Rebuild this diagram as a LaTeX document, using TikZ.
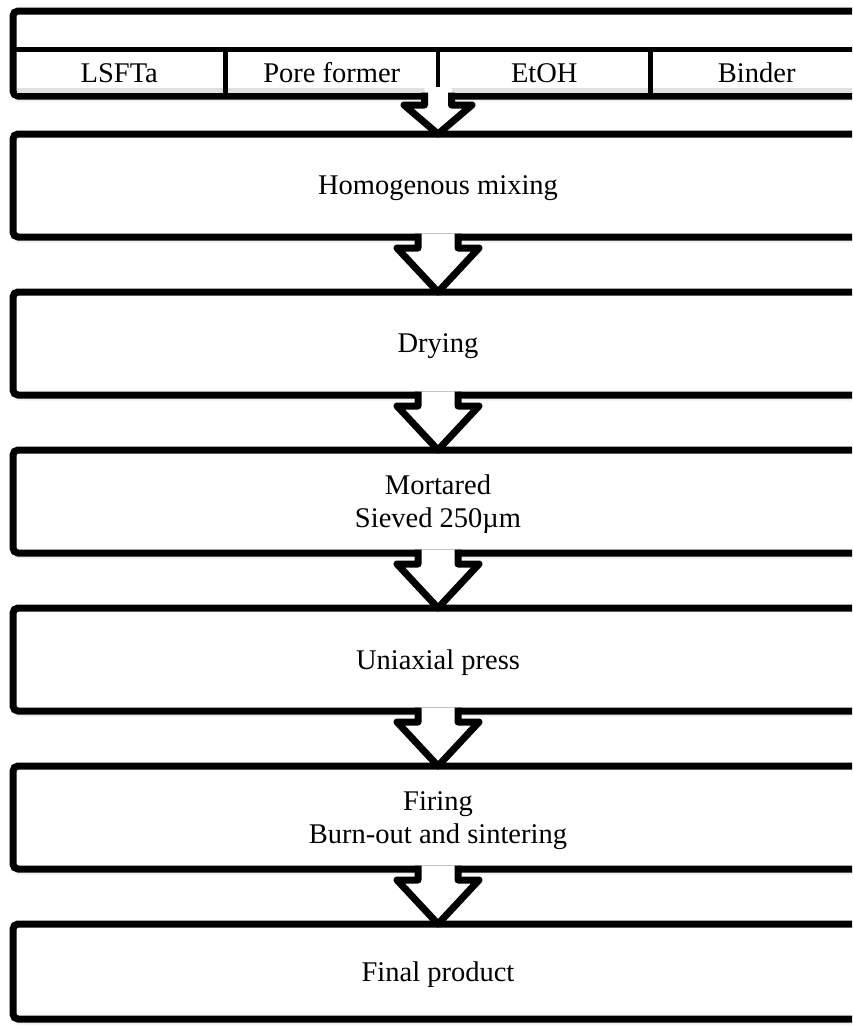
\documentclass[tikz,border=0pt]{standalone}
\usepackage{fontspec}
\setmainfont{Liberation Serif}
\usetikzlibrary{calc,shadows}

\begin{document}
\begin{tikzpicture}[x=1pt, y=-1pt, font=\fontsize{28.5}{33}\selectfont]
  \useasboundingbox (0,0) rectangle (852,1026);
  \clip (0,0) rectangle (852,1026);

  % ingredients
  \node [rectangle, rounded corners=5pt, draw, fill=white, line width=7pt, inner sep=0pt, outer sep=0pt,
         minimum width=850pt, minimum height=85pt,
         drop shadow={shadow xshift=0pt, shadow yshift=-5.5pt, opacity=0.12}] (feed) at (438,53.5) {};
  \fill [black!12] ($(feed.south west)+(3.5,-8.5)$) rectangle ($(feed.south east)+(-3.5,-3.5)$);
  \begin{scope}[every node/.style={rectangle, inner sep=0pt, outer sep=0pt, minimum width=212.5pt,
                                   minimum height=46.5pt, text height=20pt, text depth=1.5pt}]
    \node (lsfta) at (119.25,72.75) {LSFTa};
    \node (pore) at (331.75,72.75) {Pore former};
    \node (etoh) at (544.25,72.75) {EtOH};
    \node (binder) at (756.75,72.75) {Binder};
  \end{scope}
  \draw [line width=5pt] (lsfta.north west) -- (binder.north east);
  \foreach \c in {lsfta,pore,etoh}
    \draw [line width=4.5pt] (\c.north east) -- (\c.south east);

  % process steps
  \begin{scope}[every node/.style={rectangle, rounded corners=5pt, draw, fill=white, line width=7pt,
                                   inner sep=0pt, outer sep=0pt, minimum width=850pt, minimum height=103pt,
                                   align=center, text depth=0pt,
                                   drop shadow={shadow xshift=0pt, shadow yshift=-5.5pt, opacity=0.12}}]
    \node (mix) at (438,185.5) {Homogenous mixing};
    \node (dry) at (438,343.5) {Drying};
    \node (mort) at (438,501.5) {Mortared\\Sieved 250µm};
    \node (press) at (438,659.5) {Uniaxial press};
    \node (fire) at (438,817.5) {Firing\\Burn-out and sintering};
    \node [minimum height=95pt] (final) at (438,971.5) {Final product};
  \end{scope}

  % block arrows
  \begin{scope}[line width=7pt, line join=round]
    \fill [white] ($(feed.south)+(-13.5,-9)$) -- ($(feed.south)+(-13.5,9)$) -- ($(feed.south)+(-34,9)$)
      -- (mix.north) -- ($(feed.south)+(34,9)$) -- ($(feed.south)+(13.5,9)$) -- ($(feed.south)+(13.5,-9)$) -- cycle;
    \draw ($(feed.south)+(-13.5,-3.5)$) -- ($(feed.south)+(-13.5,9)$) -- ($(feed.south)+(-34,9)$)
      -- (mix.north) -- ($(feed.south)+(34,9)$) -- ($(feed.south)+(13.5,9)$) -- ($(feed.south)+(13.5,-3.5)$);
    \foreach \a/\b in {mix/dry, dry/mort, mort/press, press/fire, fire/final} {
      \fill [white] ($(\a.south)+(-20,-3.5)$) -- ($(\a.south)+(-20,11)$) -- ($(\a.south)+(-41,11)$)
        -- (\b.north) -- ($(\a.south)+(41,11)$) -- ($(\a.south)+(20,11)$) -- ($(\a.south)+(20,-3.5)$) -- cycle;
      \draw ($(\a.south)+(-20,-3.5)$) -- ($(\a.south)+(-20,11)$) -- ($(\a.south)+(-41,11)$)
        -- (\b.north) -- ($(\a.south)+(41,11)$) -- ($(\a.south)+(20,11)$) -- ($(\a.south)+(20,-3.5)$);
    }
  \end{scope}
\end{tikzpicture}
\end{document}
